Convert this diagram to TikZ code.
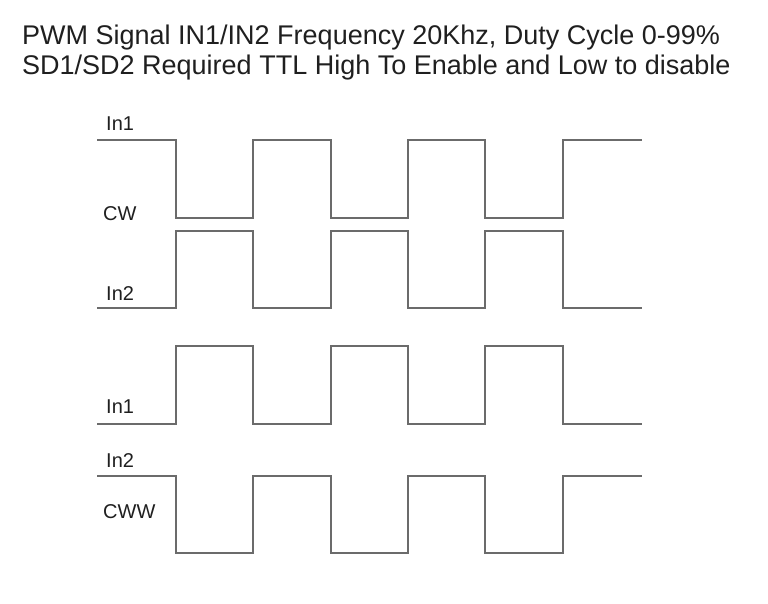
\documentclass[tikz,border=0pt]{standalone}
\usepackage{fontspec}
\setmainfont{Liberation Sans}
\begin{document}
\begin{tikzpicture}[x=1pt,y=-1pt,
  wave/.style={draw=black!58,line width=1.3pt,line join=miter},
  lbl/.style={anchor=base west,inner sep=0pt,font=\fontsize{20}{20}\selectfont,text=black!88},
  ttl/.style={anchor=base west,inner sep=0pt,font=\fontsize{27}{27}\selectfont,text=black!88}]
\useasboundingbox (0,0) rectangle (768,604);
\node[ttl] (t1) at (22,44.5) {PWM Signal IN1/IN2 Frequency 20Khz, Duty Cycle 0-99\%};
\node[ttl] (t2) at (22,74.5) {SD1/SD2 Required TTL High To Enable and Low to disable};
% CW In1
\draw[wave] (97,140) -- (176,140) -- (176,218) -- (253,218) -- (253,140) -- (331,140) -- (331,218) -- (408,218) -- (408,140) -- (485,140) -- (485,218) -- (563,218) -- (563,140) -- (642,140);
% CW In2
\draw[wave] (97,308) -- (176,308) -- (176,231) -- (253,231) -- (253,308) -- (331,308) -- (331,231) -- (408,231) -- (408,308) -- (485,308) -- (485,231) -- (563,231) -- (563,308) -- (642,308);
% CWW In1
\draw[wave] (97,424) -- (176,424) -- (176,346) -- (253,346) -- (253,424) -- (331,424) -- (331,346) -- (408,346) -- (408,424) -- (485,424) -- (485,346) -- (563,346) -- (563,424) -- (642,424);
% CWW In2
\draw[wave] (97,476) -- (176,476) -- (176,553) -- (253,553) -- (253,476) -- (331,476) -- (331,553) -- (408,553) -- (408,476) -- (485,476) -- (485,553) -- (563,553) -- (563,476) -- (642,476);
\node[lbl] (a1) at (106,131) {In1};
\node[lbl] (a2) at (103,220) {CW};
\node[lbl] (a3) at (106,300) {In2};
\node[lbl] (b1) at (106,413.5) {In1};
\node[lbl] (b2) at (106,467) {In2};
\node[lbl] (b3) at (103,518.5) {CWW};
\end{tikzpicture}
\end{document}
